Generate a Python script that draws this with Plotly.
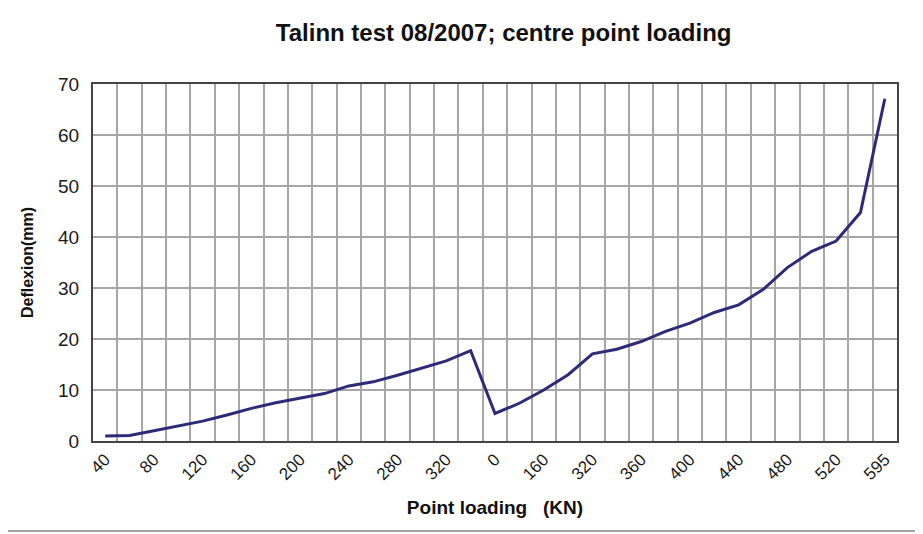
import plotly.graph_objects as go

# Point loading (KN) categories as printed on the axis, in test order
loading = ["40", "60", "80", "100", "120", "140", "160", "180", "200", "220",
           "240", "260", "280", "300", "320", "340", "0", "80", "160", "240",
           "320", "340", "360", "380", "400", "420", "440", "460", "480", "500",
           "520", "560", "595"]
# Deflexion (mm)
deflexion = [1.0, 1.1, 2.0, 2.9, 3.9, 5.1, 6.4, 7.5, 8.4, 9.3,
             10.8, 11.6, 12.9, 14.3, 15.7, 17.7, 5.4, 7.4, 10.0, 13.0,
             17.1, 18.0, 19.5, 21.5, 23.1, 25.2, 26.7, 29.7, 34.0, 37.2,
             39.2, 44.8, 67.1]

pos = list(range(len(loading)))
tick_pos = pos[::2]
tick_text = [loading[i] for i in tick_pos]

fig = go.Figure()
fig.add_trace(go.Scatter(x=pos, y=deflexion, mode="lines",
                         line=dict(color="#2d2a78", width=3),
                         showlegend=False))

# page body adds an 8px offset, margins compensate for it
fig.update_layout(
    width=923, height=534,
    margin=dict(l=85, r=34, t=76, b=101),
    paper_bgcolor="white", plot_bgcolor="white",
    font=dict(family="Liberation Sans, Arial, sans-serif", color="#1a1a1a"),
    title=dict(text="<b>Talinn test 08/2007; centre point loading</b>",
               x=0.537, xanchor="center", y=0.953, yanchor="middle",
               font=dict(size=24, color="#111")),
)

fig.update_xaxes(
    range=[-0.5, len(loading) - 0.5],
    tickmode="array", tickvals=tick_pos, ticktext=tick_text,
    tickangle=-45, tickfont=dict(size=17, color="#1a1a1a"),
    showgrid=False, zeroline=False,
    minor=dict(tick0=-0.5, dtick=1, showgrid=True, gridcolor="#a6a6a6", gridwidth=1.5),
    showline=True, linecolor="#444", linewidth=2, mirror=True,
    title=dict(text="<b>Point loading\u00a0\u00a0\u00a0(KN)</b>",
               font=dict(size=19, color="#111"), standoff=18),
)

fig.update_yaxes(
    range=[0, 70], dtick=10,
    tickfont=dict(size=19, color="#1a1a1a"),
    ticklabelstandoff=8,
    showgrid=True, gridcolor="#a6a6a6", gridwidth=1.5, zeroline=False,
    showline=True, linecolor="#444", linewidth=2, mirror=True,
    ticks="", ticklen=0,
    title=dict(text="<b>Deflexion(mm)</b>", font=dict(size=16, color="#111"),
               standoff=20),
)

# outer frame around the whole chart
fig.add_shape(type="rect", xref="paper", yref="paper",
              x0=-0.112, x1=1.027, y0=-0.252, y1=1.227,
              line=dict(color="#888", width=1.5), layer="below")

fig.write_html("out.html")
